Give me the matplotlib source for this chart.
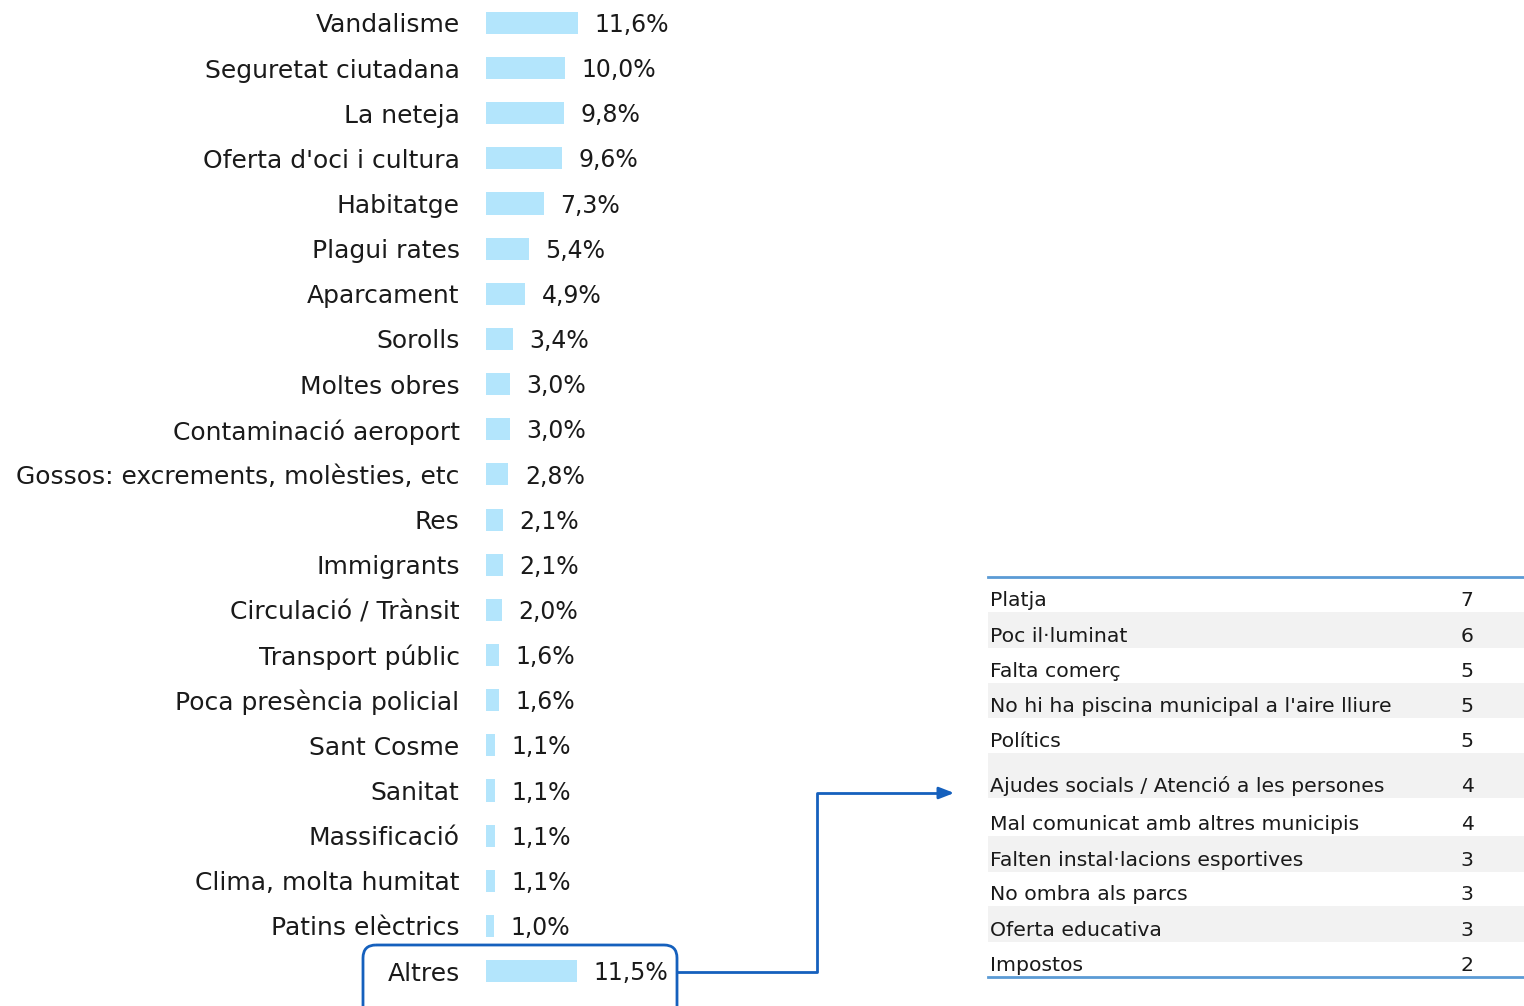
import matplotlib
matplotlib.use("Agg")
import matplotlib.pyplot as plt
from matplotlib.patches import FancyBboxPatch, Rectangle

plt.rcParams['font.family'] = ['DejaVu Sans']

# main chart data
categories = ["Vandalisme", "Seguretat ciutadana", "La neteja", "Oferta d'oci i cultura",
              "Habitatge", "Plagui rates", "Aparcament", "Sorolls", "Moltes obres",
              "Contaminació aeroport", "Gossos: excrements, molèsties, etc", "Res",
              "Immigrants", "Circulació / Trànsit", "Transport públic",
              "Poca presència policial", "Sant Cosme", "Sanitat", "Massificació",
              "Clima, molta humitat", "Patins elèctrics", "Altres"]
percent = [11.6, 10.0, 9.8, 9.6, 7.3, 5.4, 4.9, 3.4, 3.0, 3.0, 2.8, 2.1,
           2.1, 2.0, 1.6, 1.6, 1.1, 1.1, 1.1, 1.1, 1.0, 11.5]

# breakdown of "Altres"
other_items = ["Platja", "Poc il·luminat", "Falta comerç",
               "No hi ha piscina municipal a l'aire lliure", "Polítics",
               "Ajudes socials / Atenció a les persones",
               "Mal comunicat amb altres municipis", "Falten instal·lacions esportives",
               "No ombra als parcs", "Oferta educativa", "Impostos"]
other_counts = [7, 6, 5, 5, 5, 4, 4, 3, 3, 3, 2]

BAR = '#b3e5fc'
TXT = '#1a1a1a'
BLUE = '#1560bd'
LINE = '#5b9bd5'
W, H = 1524, 1006

fig = plt.figure(figsize=(W / 100, H / 100), dpi=100)

# bar axes: 7.92 px per percent point, rows 45.14 px apart
px_per = 7.92
ax_w = 20 * px_per
ax = fig.add_axes([486 / W, (H - 993.6) / H, ax_w / W, 993.2 / H])
y = list(range(len(categories)))
ax.barh(y, percent, height=0.49, color=BAR)
ax.set_xlim(0, 20)
ax.set_ylim(len(categories) - 0.5, -0.5)
ax.set_yticks(y)
ax.set_yticklabels(categories, fontsize=18, color=TXT)
ax.tick_params(axis='y', length=0, pad=19)
ax.set_xticks([])
for s in ax.spines.values():
    s.set_visible(False)
for yi, v in zip(y, percent):
    ax.annotate(f"{v:.1f}%".replace('.', ','), (v, yi), xytext=(12, -1.5),
                textcoords='offset points', ha='left', va='center',
                fontsize=17, color=TXT)

# overlay in pixel coordinates for box, connector and table
ov = fig.add_axes([0, 0, 1, 1], facecolor='none')
ov.set_xlim(0, W)
ov.set_ylim(H, 0)
ov.axis('off')

ov.add_patch(FancyBboxPatch((363, 945), 314, 75,
                            boxstyle="round,pad=0,rounding_size=13",
                            fill=False, ec=BLUE, lw=2))
ov.plot([678, 817, 817, 944], [972, 972, 793, 793], color=BLUE, lw=2)
ov.annotate("", xy=(957, 793), xytext=(940, 793),
            arrowprops=dict(arrowstyle='-|>,head_length=0.9,head_width=0.35',
                            color=BLUE, lw=2))

# table
row_h = [35, 36, 35, 35, 35, 45, 38, 36, 34, 36, 35]
top = 577
yb = top
for i, (name, cnt) in enumerate(zip(other_items, other_counts)):
    y0, y1 = yb, yb + row_h[i]
    if i % 2 == 1:
        ov.add_patch(Rectangle((988, y0), W - 988, y1 - y0, color='#f2f2f2', lw=0))
    ov.text(990, y1 - 6, name, fontsize=14.7, color=TXT, va='baseline', ha='left')
    ov.text(1467, y1 - 6, str(cnt), fontsize=14.7, color=TXT, va='baseline', ha='center')
    yb = y1
ov.plot([988, W], [top, top], color=LINE, lw=2)
ov.plot([988, W], [yb, yb], color=LINE, lw=2)

fig.savefig("out.png", dpi=100)
